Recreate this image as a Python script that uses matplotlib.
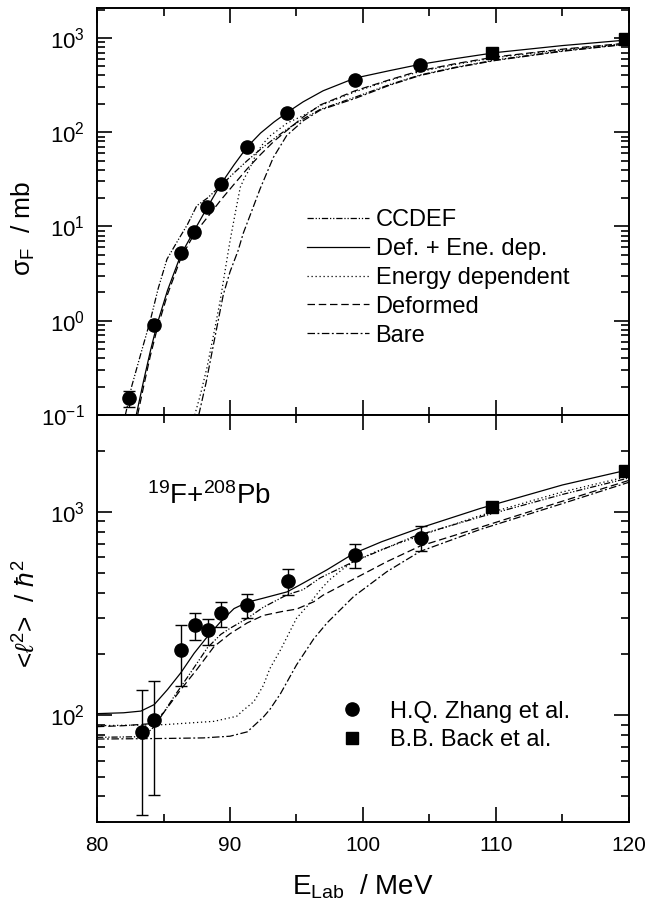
import matplotlib
matplotlib.use("Agg")
import matplotlib.pyplot as plt
from matplotlib.ticker import LogLocator, MultipleLocator, NullFormatter

plt.rcParams['font.family'] = ['Liberation Sans', 'DejaVu Sans']
plt.rcParams['mathtext.fontset'] = 'custom'
plt.rcParams['mathtext.rm'] = 'Liberation Sans'
plt.rcParams['mathtext.it'] = 'Liberation Sans:italic'
plt.rcParams['mathtext.bf'] = 'Liberation Sans:bold'

####################################
# fusion cross section data (top) #
E_zhang = [82.4, 84.3, 86.3, 87.3, 88.3, 89.3, 91.3, 94.3, 99.4, 104.3]
sig_zhang = [0.15, 0.89, 5.2, 8.8, 16.2, 28, 69, 161, 361, 521]
sig_lo = [0.12, 0.89, 5.2, 8.8, 16.2, 28, 69, 161, 361, 521]
sig_hi = [0.18, 0.89, 5.2, 8.8, 16.2, 28, 69, 161, 361, 521]
E_back = [109.7, 119.7]
sig_back = [700, 980]

# calculated curves (top)
E_ccdef_t = [82.13, 82.6, 83.3, 84.0, 84.6, 85.26, 86.0, 86.8, 87.5, 88.3, 89.3, 90.3, 91.3,
             92.3, 93.3, 94.3, 95.5, 96.8, 99.4, 102, 104.3, 107, 110, 115, 120]
sig_ccdef = [0.1, 0.2, 0.45, 1.0, 2.2, 4.5, 6.8, 10.5, 16.6, 20, 27, 37, 50,
             66, 85, 108, 138, 175, 235, 320, 405, 490, 585, 730, 865]
E_defene_t = [82.95, 83.5, 84.0, 84.5, 85.3, 86.3, 87.3, 88.3, 89.3, 90.3, 91.3, 92.3, 93.3,
              94.3, 95.5, 97.0, 99.4, 102, 104.3, 107, 110, 115, 120]
sig_defene = [0.1, 0.23, 0.47, 0.9, 2.1, 5.0, 9.0, 16, 28, 45, 70, 98, 128,
              162, 210, 275, 375, 450, 525, 605, 700, 830, 955]
E_ene_t = [87.35, 87.8, 88.27, 88.8, 89.27, 89.75, 90.0, 90.4, 90.77, 91.1, 91.4, 92.0, 92.5,
           93.0, 94.3, 95.5, 96.8, 99.4, 102, 104.3, 107, 110, 115, 120]
sig_ene = [0.1, 0.17, 0.32, 0.75, 1.66, 4.3, 7.0, 14, 26, 33, 39, 60, 76,
           91, 125, 150, 192, 268, 355, 440, 525, 620, 750, 880]
E_def_t = [83.05, 83.5, 84.0, 84.5, 85.3, 86.3, 87.3, 88.3, 89.3, 90.3, 91.3, 92.3, 93.3,
           94.3, 95.5, 96.8, 99.4, 102, 104.3, 107, 110, 115, 120]
sig_def = [0.1, 0.2, 0.42, 0.8, 1.9, 4.6, 8.3, 12.5, 19, 28, 41, 58, 80,
           105, 145, 195, 275, 360, 450, 535, 630, 760, 885]
E_bare_t = [87.65, 88.2, 88.8, 89.5, 90.0, 90.6, 91.0, 91.5, 92.26, 93.26, 94.26, 95.5, 96.8,
            99.4, 102, 104.3, 107, 110, 115, 120]
sig_bare = [0.1, 0.22, 0.6, 1.9, 3.3, 5.5, 8.5, 13, 25, 54, 92, 132, 172,
            228, 315, 400, 485, 578, 722, 862]

######################################
# mean square spin data (bottom) #
E_zhang_l = [83.36, 84.3, 86.3, 87.37, 88.35, 89.3, 91.3, 94.38, 99.37, 104.33]
l2_zhang = [83, 94.5, 209, 279, 262, 318, 348, 460, 613, 748]
l2_lo = [32.3, 40.8, 140, 236, 222, 273, 300, 391, 528, 646]
l2_hi = [134, 148, 277, 320, 299, 363, 394, 527, 698, 853]
E_back_l = [109.7, 119.7]
l2_back = [1054, 1597]

E_ccdef_b = [80, 83, 83.6, 84.3, 85.0, 85.8, 86.3, 87.3, 88.3, 89.3, 90.0, 91.3, 92.5,
             94.3, 95.5, 96.8, 99.3, 103.8, 108.8, 115, 120]
l2_ccdef = [78, 78.5, 80, 88, 103, 124, 138, 172, 215, 250, 268, 300, 340,
            392, 415, 475, 570, 757, 945, 1220, 1470]
E_defene_b = [80, 82, 83.3, 84.3, 85.3, 86.3, 87.3, 88.3, 89.3, 90.3, 91.3, 92.5, 94.3,
              95.5, 97.3, 99.3, 101.4, 104.3, 108.8, 115, 120]
l2_defene = [102, 103, 105, 113, 134, 162, 202, 244, 289, 335, 360, 377, 405,
             447, 520, 625, 714, 835, 1040, 1358, 1615]
E_ene_b = [80, 85, 88.8, 90.5, 91.0, 91.8, 92.5, 93.0, 93.8, 95.0, 96.0, 96.8, 97.5,
           98.5, 99.3, 101, 104.3, 108.8, 115, 120]
l2_ene = [89, 90, 93.5, 99, 106, 117, 140, 170, 210, 300, 356, 415, 465,
          525, 570, 640, 765, 960, 1255, 1500]
E_def_b = [80, 82, 84, 85, 86.3, 87.5, 88.8, 90.0, 91.3, 92.5, 94.0, 95.0, 96.3,
           97.0, 99.3, 101.8, 104.3, 108.8, 115, 120]
l2_def = [88, 89, 91, 103, 134, 168, 218, 252, 285, 310, 325, 333, 362,
          390, 468, 570, 680, 840, 1130, 1430]
E_bare_b = [80, 85, 88, 90, 91.3, 92.5, 93.0, 93.8, 95.0, 96.3, 97.3, 99.3, 101.8,
            104.3, 108.8, 115, 120]
l2_bare = [76.5, 77, 77.5, 79, 83, 98, 107, 128, 177, 238, 285, 384, 509,
           640, 820, 1100, 1400]

######################
# line styles #
ls_ccdef = (0, (5, 1.5, 1, 1.5, 1, 1.5))
ls_defene = '-'
ls_ene = (0, (1, 2.2))
ls_def = (0, (6, 3))
ls_bare = (0, (6, 2, 1.5, 2))
lw = 0.9

fig = plt.figure(figsize=(6.47, 9.08), dpi=100)
ax1 = fig.add_axes([0.150, 0.543, 0.822, 0.448])
ax2 = fig.add_axes([0.150, 0.095, 0.822, 0.448])

# top panel
ax1.plot(E_ccdef_t, sig_ccdef, 'k', ls=ls_ccdef, lw=lw, label='CCDEF')
ax1.plot(E_defene_t, sig_defene, 'k', ls=ls_defene, lw=lw, label='Def. + Ene. dep.')
ax1.plot(E_ene_t, sig_ene, 'k', ls=ls_ene, lw=lw, label='Energy dependent')
ax1.plot(E_def_t, sig_def, 'k', ls=ls_def, lw=lw, label='Deformed')
ax1.plot(E_bare_t, sig_bare, 'k', ls=ls_bare, lw=lw, label='Bare')
err_t = [[s - lo for s, lo in zip(sig_zhang, sig_lo)], [hi - s for s, hi in zip(sig_zhang, sig_hi)]]
ax1.errorbar(E_zhang, sig_zhang, yerr=err_t, fmt='none', ecolor='k', elinewidth=1, capsize=4)
ax1.plot(E_zhang, sig_zhang, 'ko', ms=9.5)
ax1.plot(E_back, sig_back, 'ks', ms=8)

ax1.set_yscale('log')
ax1.set_ylim(0.1, 2070)
ax1.set_xlim(80, 120)
ax1.set_ylabel(r'$\mathrm{\sigma}_{\rm F}$  / mb', fontsize=19)
ax1.yaxis.set_label_coords(-0.112, 0.46)
ax1.tick_params(labelbottom=False)
ax1.legend(loc='upper left', bbox_to_anchor=(0.395, 0.506), frameon=False, fontsize=17,
           handlelength=2.6, handletextpad=0.3, labelspacing=0.29, borderpad=0, borderaxespad=0)

# bottom panel
ax2.plot(E_ccdef_b, l2_ccdef, 'k', ls=ls_ccdef, lw=lw)
ax2.plot(E_defene_b, l2_defene, 'k', ls=ls_defene, lw=lw)
ax2.plot(E_ene_b, l2_ene, 'k', ls=ls_ene, lw=lw)
ax2.plot(E_def_b, l2_def, 'k', ls=ls_def, lw=lw)
ax2.plot(E_bare_b, l2_bare, 'k', ls=ls_bare, lw=lw)
err_b = [[s - lo for s, lo in zip(l2_zhang, l2_lo)], [hi - s for s, hi in zip(l2_zhang, l2_hi)]]
ax2.errorbar(E_zhang_l, l2_zhang, yerr=err_b, fmt='none', ecolor='k', elinewidth=1, capsize=4)
ax2.plot(E_zhang_l, l2_zhang, 'ko', ms=9.5, label='H.Q. Zhang et al.')
ax2.plot(E_back_l, l2_back, 'ks', ms=8, label='B.B. Back et al.')

ax2.set_yscale('log')
ax2.set_ylim(30, 3000)
ax2.set_xlim(80, 120)
ax2.set_ylabel(r'<$\ell^2$>  / $\hbar^2$', fontsize=19)
ax2.yaxis.set_label_coords(-0.108, 0.513)
ax2.set_xlabel(r'E$_{\rm Lab}$  / MeV', fontsize=20)
ax2.xaxis.set_label_coords(0.5, -0.125)
ax2.text(0.094, 0.80, r'$^{19}$F+$^{208}$Pb', transform=ax2.transAxes, fontsize=20, va='center')
ax2.legend(loc='upper left', bbox_to_anchor=(0.458, 0.298), frameon=False, fontsize=17,
           handlelength=1.0, handletextpad=1.1, labelspacing=0.29, borderpad=0, borderaxespad=0,
           numpoints=1)

#################
# axes styling #
for ax in (ax1, ax2):
    ax.xaxis.set_major_locator(MultipleLocator(10))
    ax.xaxis.set_minor_locator(MultipleLocator(5))
    ax.yaxis.set_major_locator(LogLocator(base=10))
    ax.yaxis.set_minor_locator(LogLocator(base=10, subs=range(2, 10)))
    ax.yaxis.set_minor_formatter(NullFormatter())
    ax.tick_params(which='both', direction='in', top=True, right=True, width=1.2)
    ax.tick_params(which='major', length=11)
    ax.tick_params(which='minor', length=5.5)
    ax.tick_params(axis='y', labelsize=16, pad=9)
    ax.tick_params(axis='x', labelsize=15, pad=10)
    for sp in ax.spines.values():
        sp.set_linewidth(1.4)

fig.savefig('out.png', dpi=100)
